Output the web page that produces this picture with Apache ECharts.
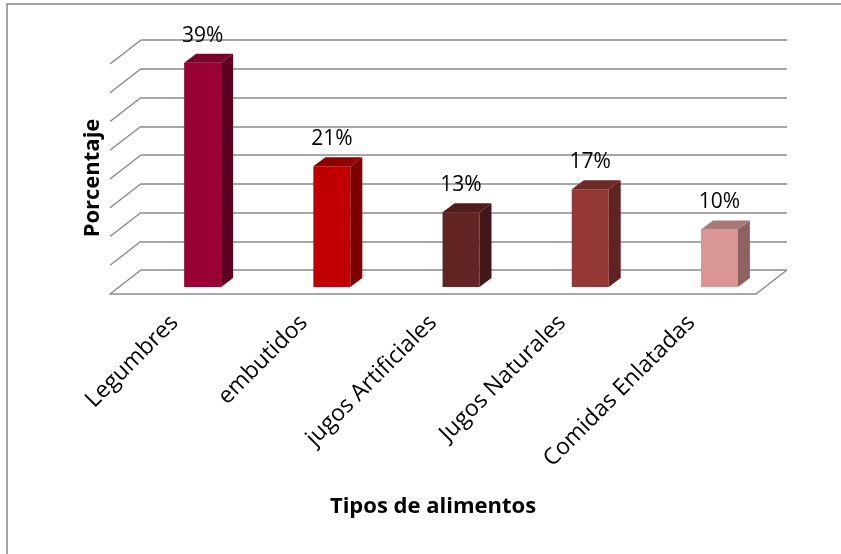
<!DOCTYPE html>
<html>
<head>
<meta charset="utf-8">
<script src="https://cdn.jsdelivr.net/npm/echarts@6/dist/echarts.min.js"></script>
<style>
  html, body { margin: 0; padding: 0; background: #fff; }
  #chart { width: 841px; height: 554px; }
</style>
</head>
<body>
<div id="chart"></div>
<script>
// Food types and their share (%)
const categories = ['Legumbres', 'embutidos', 'jugos Artificiales', 'Jugos Naturales', 'Comidas Enlatadas'];
const percentages = [39, 21, 13, 17, 10];

// Face colours of each 3D column: front, side, top
const frontColors = ['#990033', '#c00000', '#632523', '#953735', '#d99694'];
const sideColors  = ['#5e0020', '#7c0000', '#411817', '#5f2322', '#8d6160'];
const topColors   = ['#7a0029', '#8e0000', '#4e1d1c', '#6f2927', '#a97878'];

// Value axis range
const yMin = 0;
const yMax = 40;
const yStep = 5;

const GRID_COLOR = '#8a8a8a';
const FONT = '"Open Sans", "Noto Sans", sans-serif';

// Depth of the floor / side wall (oblique projection offset)
const WALL_DX = -31;
const WALL_DY = 24;

const chart = echarts.init(document.getElementById('chart'), null, { renderer: 'canvas' });

// Side wall diagonals and right floor edge, built from the value axis ticks
function renderWalls(params, api) {
  const cs = params.coordSys;
  const children = [];
  for (let v = yMin; v <= yMax; v += yStep) {
    const y = api.coord([0, v])[1];
    children.push({
      type: 'line',
      shape: { x1: cs.x, y1: y, x2: cs.x + WALL_DX, y2: y + WALL_DY },
      style: { stroke: GRID_COLOR, lineWidth: 1.5 }
    });
  }
  const y0 = api.coord([0, yMin])[1];
  const xr = cs.x + cs.width;
  children.push({
    type: 'line',
    shape: { x1: xr, y1: y0, x2: xr + WALL_DX, y2: y0 + WALL_DY },
    style: { stroke: GRID_COLOR, lineWidth: 1.5 }
  });
  return { type: 'group', children: children };
}

// 3D column: front, side and top faces plus its value label
function renderColumn(params, api) {
  const i = api.value(0);
  const v = api.value(1);
  const base = api.coord([i, 0]);
  const top = api.coord([i, v]);
  const band = api.size([1, 0])[0];
  const w = band * 0.286;
  const cx = base[0] - band * 0.023;
  const shiftY = 17;
  const dx = 12, dy = -9;
  const x0 = cx - w / 2, x1 = cx + w / 2;
  const yb = base[1] + shiftY, yt = top[1] + shiftY;
  const idx = params.dataIndex;
  return {
    type: 'group',
    children: [
      {
        type: 'polygon',
        shape: { points: [[x0, yt], [x1, yt], [x1, yb], [x0, yb]] },
        style: { fill: frontColors[idx] }
      },
      {
        type: 'polygon',
        shape: { points: [[x1, yt], [x1 + dx, yt + dy], [x1 + dx, yb + dy], [x1, yb]] },
        style: { fill: sideColors[idx] }
      },
      {
        type: 'polygon',
        shape: { points: [[x0, yt], [x0 + dx, yt + dy], [x1 + dx, yt + dy], [x1, yt]] },
        style: { fill: topColors[idx] }
      },
      {
        type: 'text',
        x: cx,
        y: yt - 27,
        style: {
          text: v + '%',
          align: 'center',
          verticalAlign: 'middle',
          fontFamily: FONT,
          fontSize: 21,
          fill: '#000'
        }
      }
    ]
  };
}

const option = {
  backgroundColor: '#fff',
  animation: false,
  graphic: [
    {
      type: 'rect',
      silent: true,
      shape: { x: 7, y: 4, width: 900, height: 700 },
      style: { fill: null, stroke: '#878787', lineWidth: 1.5 }
    }
  ],
  grid: [
    { left: 141, top: 40, width: 646, height: 230, outerBoundsMode: 'none' },
    { left: 110, top: 62, width: 646, height: 232, outerBoundsMode: 'none' }
  ],
  xAxis: [
    {
      gridIndex: 0,
      type: 'category',
      data: categories,
      show: false
    },
    {
      gridIndex: 1,
      type: 'category',
      data: categories,
      axisLine: { lineStyle: { color: GRID_COLOR, width: 1.5 } },
      axisTick: { length: 6, lineStyle: { color: GRID_COLOR, width: 1.5 } },
      axisLabel: {
        rotate: 45,
        interval: 0,
        margin: 25,
        fontFamily: FONT,
        fontSize: 23,
        color: '#000'
      },
      name: 'Tipos de alimentos',
      nameLocation: 'middle',
      nameGap: 202,
      nameTextStyle: { fontFamily: FONT, fontWeight: 'bold', fontSize: 22, color: '#000' }
    }
  ],
  yAxis: [
    {
      gridIndex: 0,
      type: 'value',
      min: yMin,
      max: yMax,
      interval: yStep,
      axisLabel: { show: false },
      axisLine: { show: false },
      axisTick: { show: false },
      splitLine: { lineStyle: { color: GRID_COLOR, width: 1.5 } }
    },
    {
      gridIndex: 1,
      type: 'value',
      min: yMin,
      max: yMax,
      interval: yStep,
      axisLabel: { show: false },
      axisLine: { show: false },
      axisTick: { show: false },
      splitLine: { show: false },
      name: 'Porcentaje',
      nameLocation: 'middle',
      nameRotate: 90,
      nameGap: 6,
      nameTextStyle: { fontFamily: FONT, fontWeight: 'bold', fontSize: 22, color: '#000' }
    }
  ],
  series: [
    {
      type: 'custom',
      name: 'walls',
      xAxisIndex: 0,
      yAxisIndex: 0,
      silent: true,
      z: 1,
      data: [[0, 0]],
      renderItem: renderWalls
    },
    {
      type: 'custom',
      name: 'Porcentaje',
      xAxisIndex: 0,
      yAxisIndex: 0,
      z: 2,
      encode: { x: 0, y: 1 },
      data: percentages.map((v, i) => [i, v]),
      renderItem: renderColumn
    }
  ]
};

chart.setOption(option);
</script>
</body>
</html>
